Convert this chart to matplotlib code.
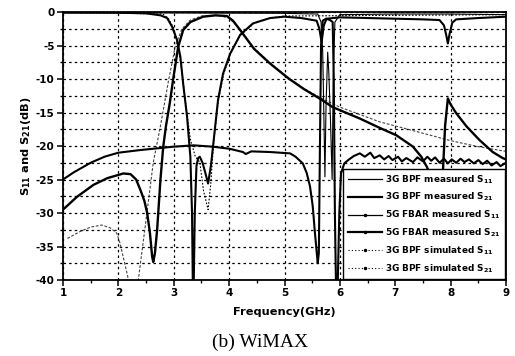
import matplotlib
matplotlib.use("Agg")
import matplotlib.pyplot as plt
from matplotlib.lines import Line2D

plt.rcParams["font.family"] = ["DejaVu Sans"]
plt.rcParams["axes.unicode_minus"] = False
plt.rcParams["mathtext.default"] = "bf"

# ---------------- data ----------------
# 3G BPF measured S21
bpf_s21_meas_f = [1.0, 1.25, 1.55, 1.8, 2.09, 2.22, 2.32, 2.4, 2.47, 2.52, 2.57, 2.61,
                  2.63, 2.66, 2.7, 2.76, 2.81, 2.86, 2.93, 2.99, 3.08, 3.17, 3.3, 3.53,
                  3.75, 3.96, 4.07, 4.2, 4.45, 4.74, 5.07, 5.35, 5.67, 5.87, 6.1, 6.36,
                  6.72, 7.02, 7.32, 7.47, 7.57, 7.62, 7.68, 7.75, 7.82, 7.86, 7.9, 7.95,
                  8.0, 8.1, 8.29, 8.52, 8.76, 8.94, 9.0]
bpf_s21_meas_db = [-29.5, -27.6, -25.8, -24.8, -24.1, -24.2, -25.0, -26.6, -28.2, -30.0, -33.0, -36.5,
                   -37.3, -36.0, -32.5, -25.0, -20.1, -17.0, -13.5, -10.0, -5.2, -2.7, -1.5, -0.7,
                   -0.5, -0.6, -1.3, -2.7, -5.5, -7.7, -9.9, -11.5, -13.1, -14.2, -15.0, -15.9,
                   -17.3, -18.4, -20.1, -21.6, -23.1, -24.1, -25.5, -26.5, -27.0, -24.0, -17.0, -12.9,
                   -13.8, -15.1, -17.1, -19.1, -20.9, -21.8, -22.0]

# 3G BPF measured S11
bpf_s11_meas_f = [1.0, 2.0, 2.5, 2.76, 2.88, 2.97, 3.06, 3.12, 3.17, 3.24, 3.3, 3.33,
                  3.345, 3.36, 3.38, 3.41, 3.44, 3.47, 3.52, 3.57, 3.62, 3.67, 3.71, 3.8,
                  3.89, 4.02, 4.2, 4.43, 4.74, 5.0, 5.3, 5.58, 5.63, 5.67, 5.71, 5.76,
                  6.0, 6.5, 7.0, 7.5, 7.8, 7.88, 7.92, 7.95, 7.98, 8.03, 8.1, 8.5, 9.0]
bpf_s11_meas_db = [-0.1, -0.1, -0.2, -0.5, -0.9, -2.2, -4.2, -6.7, -10.7, -15.6, -21.6, -30.0,
                   -41.0, -41.0, -30.0, -23.0, -21.8, -21.6, -22.5, -24.0, -25.6, -23.0, -20.0, -13.1,
                   -9.2, -6.2, -3.4, -1.7, -0.9, -0.7, -0.9, -1.3, -2.5, -4.5, -2.0, -1.0,
                   -0.8, -0.9, -1.0, -1.1, -1.2, -2.0, -3.4, -4.7, -3.3, -1.6, -1.1, -0.9, -0.7]

# 5G FBAR measured S11
fbar_s11_f = [1.0, 3.0, 5.0, 5.6, 5.66, 5.69, 5.71, 5.73, 5.75, 5.78, 5.8, 5.83,
              5.86, 5.88, 5.91, 6.0, 7.0, 8.0, 9.0]
fbar_s11_db = [-0.1, -0.15, -0.2, -0.3, -1.5, -6.0, -15.0, -24.6, -14.0, -6.0, -9.0, -16.0,
               -25.0, -10.0, -1.5, -0.4, -0.3, -0.3, -0.4]

# 5G FBAR measured S21
fbar_s21_f = [1.0, 1.2, 1.5, 1.75, 2.0, 2.4, 2.76, 3.0, 3.36, 3.7, 4.0, 4.25,
              4.3, 4.4, 4.74, 5.1, 5.2, 5.33, 5.4, 5.46, 5.51, 5.55, 5.6, 5.62,
              5.64, 5.66, 5.69, 5.75, 5.82, 5.87, 5.89, 5.91, 5.93, 5.96, 5.99, 6.02,
              6.08, 6.15, 6.25, 6.36, 6.45, 6.55, 6.62, 6.72, 6.8, 6.88, 6.95, 7.05,
              7.12, 7.2, 7.32, 7.4, 7.5, 7.58, 7.65, 7.72, 7.8, 7.88, 7.95, 8.02,
              8.1, 8.18, 8.25, 8.33, 8.42, 8.5, 8.58, 8.66, 8.74, 8.83, 8.9, 9.0]
fbar_s21_db = [-25.0, -23.9, -22.5, -21.6, -21.0, -20.6, -20.3, -20.1, -19.9, -20.1, -20.4, -20.9,
               -21.2, -20.8, -20.9, -21.1, -21.6, -22.6, -24.0, -26.0, -29.0, -33.0, -37.5, -36.0,
               -20.0, -5.0, -1.3, -1.0, -1.2, -1.5, -10.0, -30.0, -41.0, -41.0, -30.0, -24.1,
               -22.6, -22.1, -21.5, -21.1, -21.6, -21.0, -21.8, -21.4, -22.0, -21.5, -22.1, -21.6,
               -22.3, -21.8, -22.4, -21.7, -22.3, -21.6, -22.2, -21.7, -22.5, -21.9, -22.6, -22.0,
               -22.5, -21.9, -22.4, -22.0, -22.6, -22.1, -22.7, -22.2, -22.9, -22.4, -23.0, -22.5]

# 3G BPF simulated S11
bpf_s11_sim_f = [1.0, 2.8, 2.9, 3.0, 3.08, 3.15, 3.22, 3.3, 3.39, 3.47, 3.54, 3.62,
                 3.67, 3.72, 3.8, 3.9, 4.02, 4.2, 4.45, 4.75, 5.0, 9.0]
bpf_s11_sim_db = [-0.05, -0.3, -0.9, -2.4, -5.0, -9.0, -14.0, -19.0, -21.6, -22.4, -26.8, -29.5,
                  -25.5, -19.5, -13.5, -9.3, -6.3, -3.5, -1.7, -0.9, -0.6, -0.4]

# 3G BPF simulated S21
bpf_s21_sim_f = [1.08, 1.3, 1.5, 1.7, 1.85, 1.97, 2.03, 2.1, 2.17, 2.22, 2.3, 2.36,
                 2.5, 2.63, 2.76, 2.9, 3.03, 3.15, 3.3, 3.5, 3.8, 4.0, 4.2, 4.45,
                 4.74, 5.07, 5.35, 5.67, 6.0, 6.36, 6.72, 7.0, 7.5, 8.0, 8.5, 9.0]
bpf_s21_sim_db = [-33.8, -32.8, -32.1, -31.8, -32.2, -33.0, -34.5, -37.0, -39.5, -45.0, -45.0, -40.0,
                  -31.0, -22.5, -17.0, -10.5, -5.0, -2.5, -1.2, -0.6, -0.5, -0.9, -2.6, -5.4,
                  -7.6, -9.8, -11.4, -12.9, -14.2, -15.3, -16.4, -17.0, -18.1, -19.2, -20.1, -20.8]

legend_labels = ["3G BPF measured S$_{11}$", "3G BPF measured S$_{21}$",
                 "5G FBAR measured S$_{11}$", "5G FBAR measured S$_{21}$",
                 "3G BPF simulated S$_{11}$", "3G BPF simulated S$_{21}$"]

# ---------------- figure ----------------
fig = plt.figure(figsize=(5.15, 3.56), dpi=100)
ax = fig.add_axes([63 / 515, 1 - 280 / 356, (506 - 63) / 515, (280 - 12) / 356])

ax.plot(bpf_s11_sim_f, bpf_s11_sim_db, color="black", lw=0.8, ls=(0, (1.5, 1.5)))
ax.plot(bpf_s21_sim_f, bpf_s21_sim_db, color="#444444", lw=0.8, ls=(0, (2.5, 1.5)))
ax.plot(fbar_s11_f, fbar_s11_db, color="black", lw=0.8)
ax.plot(bpf_s11_meas_f, bpf_s11_meas_db, color="black", lw=1.5)
ax.plot(fbar_s21_f, fbar_s21_db, color="black", lw=1.5)
ax.plot(bpf_s21_meas_f, bpf_s21_meas_db, color="black", lw=1.7)

ax.set_xlim(1, 9)
ax.set_ylim(-40, 0)
ax.set_xticks(range(1, 10))
ax.set_yticks(range(-40, 1, 5))
ax.set_xticks([1.5 + i for i in range(8)], minor=True)
ax.set_yticks([-37.5 + 5 * i for i in range(8)], minor=True)

ax.grid(True, which="major", axis="x", color="black", lw=0.9, ls=(0, (2, 2.5)))
ax.grid(True, which="both", axis="y", color="black", lw=0.9, ls=(0, (2, 2.5)))

ax.tick_params(which="major", direction="out", length=4, width=1.1, labelsize=7.5, pad=2)
ax.tick_params(which="minor", direction="out", length=2, width=1.0)
for lab in ax.get_xticklabels() + ax.get_yticklabels():
    lab.set_fontweight("bold")
for sp in ax.spines.values():
    sp.set_linewidth(1.3)

ax.set_xlabel("Frequency(GHz)", fontsize=8.2, fontweight="bold", labelpad=6)
ax.set_ylabel("S$_{11}$ and S$_{21}$(dB)", fontsize=8.2, fontweight="bold", labelpad=2)

handles = [
    Line2D([], [], color="black", lw=0.9),
    Line2D([], [], color="black", lw=1.6),
    Line2D([], [], color="black", lw=0.9, marker=".", ms=3),
    Line2D([], [], color="black", lw=1.6, marker=".", ms=3),
    Line2D([], [], color="black", lw=0.8, ls=(0, (1, 2)), marker=".", ms=3),
    Line2D([], [], color="black", lw=0.8, ls=(0, (1, 2)), marker=".", ms=3),
]
leg = ax.legend(handles, legend_labels, loc="lower right",
                frameon=True, fancybox=False, framealpha=1, edgecolor="black",
                borderaxespad=0.1, handlelength=3.9, labelspacing=0.6,
                handletextpad=0.3, borderpad=0.5, prop={"weight": "bold", "size": 6.4})
leg.get_frame().set_linewidth(1.0)

fig.text(260 / 515, 1 - 342 / 356, "(b) WiMAX", ha="center", va="center",
         fontsize=14, family="Liberation Serif")

fig.savefig("out.png", dpi=100)
